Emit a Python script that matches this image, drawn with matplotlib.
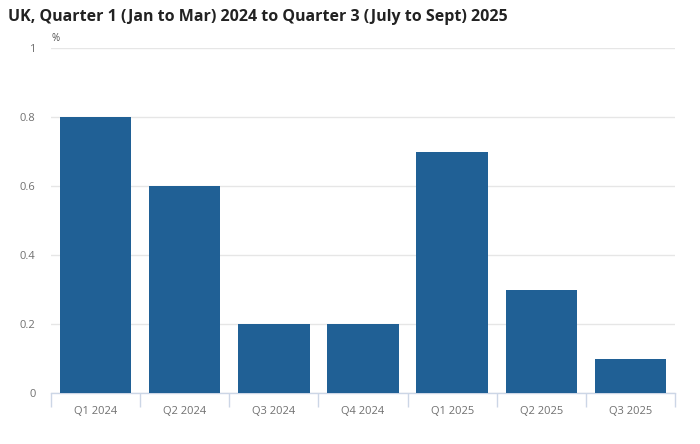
import matplotlib.pyplot as plt
import numpy as np

plt.rcParams['font.family'] = ['Open Sans', 'DejaVu Sans']

title = "UK, Quarter 1 (Jan to Mar) 2024 to Quarter 3 (July to Sept) 2025"
quarters = ["Q1 2024", "Q2 2024", "Q3 2024", "Q4 2024", "Q1 2025", "Q2 2025", "Q3 2025"]
values = [0.8, 0.6, 0.2, 0.2, 0.7, 0.3, 0.1]
y_ticks = [0, 0.2, 0.4, 0.6, 0.8, 1]
y_tick_labels = ["0", "0.2", "0.4", "0.6", "0.8", "1"]

bar_color = "#206095"
axis_color = "#ccd6e6"
grid_color = "#e6e6e6"
label_color = "#707070"

fig = plt.figure(figsize=(7, 4.44), dpi=100)
ax = fig.add_axes([51 / 700, 1 - 393 / 444, 624 / 700, 345 / 444])

x = np.arange(len(quarters))
ax.bar(x, values, width=0.8, color=bar_color, zorder=3)

ax.set_xlim(-0.5, len(quarters) - 0.5)
ax.set_ylim(0, 1)
ax.set_yticks(y_ticks)
ax.set_yticklabels(y_tick_labels)
ax.yaxis.grid(True, color=grid_color, linewidth=1, zorder=0)
ax.tick_params(axis="y", length=0, pad=11, labelsize=8, labelcolor=label_color)

ax.set_xticks(x)
ax.set_xticklabels(quarters)
ax.tick_params(axis="x", length=0, pad=9, labelsize=8, labelcolor=label_color)
# category boundary ticks
ax.set_xticks(np.arange(len(quarters) + 1) - 0.5, minor=True)
ax.tick_params(axis="x", which="minor", length=10, width=1, color=axis_color)

for side in ["top", "right", "left"]:
    ax.spines[side].set_visible(False)
ax.spines["bottom"].set_color(axis_color)
ax.spines["bottom"].set_linewidth(1)

ax.text(0, 1.012, "%", transform=ax.transAxes, fontsize=7, color="#505050",
        ha="left", va="bottom")

fig.text(8 / 700, 1 - 17 / 444, title, fontsize=11.5, fontweight="bold",
         color="#222222", ha="left", va="center")

fig.savefig("out.png", dpi=100)
